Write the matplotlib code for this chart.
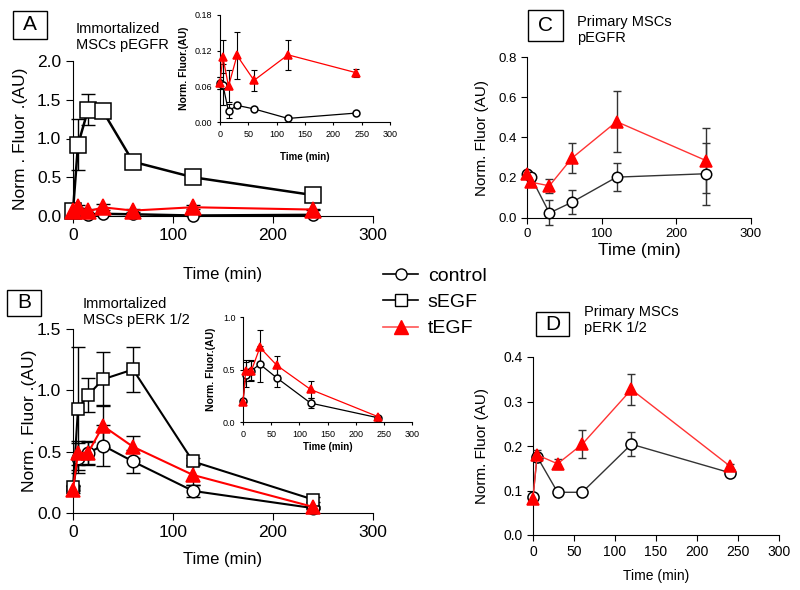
import matplotlib
matplotlib.use("Agg")
import matplotlib.pyplot as plt
from matplotlib.lines import Line2D
from matplotlib.patches import Rectangle

plt.rcParams['font.family'] = ['Liberation Sans', 'DejaVu Sans']

# ---- data ----
t_AB = [0, 5, 15, 30, 60, 120, 240]
t_CD = [0, 5, 30, 60, 120, 240]

A_ctrl = [0.065, 0.063, 0.018, 0.028, 0.022, 0.006, 0.015]
A_ctrl_err = [0.010, 0.035, 0.012, 0.004, 0.004, 0.002, 0.003]
A_sEGF = [0.07, 0.92, 1.37, 1.35, 0.70, 0.50, 0.27]
A_sEGF_err = [0.02, 0.33, 0.20, 0.05, 0.04, 0.02, 0.02]
A_tEGF = [0.065, 0.110, 0.060, 0.112, 0.070, 0.113, 0.083]
A_tEGF_err = [0.010, 0.028, 0.027, 0.040, 0.018, 0.025, 0.007]

B_ctrl = [0.20, 0.45, 0.49, 0.55, 0.42, 0.18, 0.04]
B_ctrl_err = [0.02, 0.12, 0.10, 0.17, 0.09, 0.05, 0.01]
B_sEGF = [0.21, 0.85, 0.96, 1.09, 1.17, 0.42, 0.11]
B_sEGF_err = [0.02, 0.50, 0.14, 0.22, 0.18, 0.03, 0.02]
B_tEGF = [0.19, 0.49, 0.49, 0.71, 0.54, 0.31, 0.05]
B_tEGF_err = [0.03, 0.10, 0.09, 0.17, 0.09, 0.08, 0.01]

C_ctrl = [0.22, 0.205, 0.025, 0.078, 0.203, 0.22]
C_ctrl_err = [0.0, 0.0, 0.062, 0.060, 0.070, 0.155]
C_tEGF = [0.22, 0.178, 0.160, 0.297, 0.479, 0.285]
C_tEGF_err = [0.0, 0.0, 0.035, 0.075, 0.150, 0.160]

D_ctrl = [0.086, 0.176, 0.096, 0.096, 0.204, 0.140]
D_ctrl_err = [0.005, 0.008, 0.0, 0.0, 0.027, 0.008]
D_tEGF = [0.082, 0.180, 0.160, 0.204, 0.327, 0.155]
D_tEGF_err = [0.0, 0.010, 0.011, 0.032, 0.035, 0.005]

RED = "#ff0000"
W, H = 800, 590


def px_axes(fig, x0, y0, x1, y1):
    """axes from pixel box (top-left origin)"""
    return fig.add_axes([x0 / W, 1 - y1 / H, (x1 - x0) / W, (y1 - y0) / H])


def series(ax, t, y, e, marker, fc, ec, lc, ms, lw, cap, elw=1.0, ecol="black", z=3):
    ax.errorbar(t, y, yerr=e, fmt="none", ecolor=ecol, elinewidth=elw,
                capsize=cap, capthick=elw, zorder=z, clip_on=False)
    ax.plot(t, y, color=lc, lw=lw, marker=marker, ms=ms, mfc=fc, mec=ec,
            mew=1.1, zorder=z + 1, clip_on=False)


def style(ax, xt, yt, yfmt, lsize, tlen):
    for s in ("top", "right"):
        ax.spines[s].set_visible(False)
    ax.set_xlim(0, 300)
    ax.set_xticks(xt)
    ax.set_yticks(yt)
    ax.set_yticklabels([yfmt.format(v) for v in yt])
    ax.tick_params(labelsize=lsize, length=tlen, direction="out")


def xlab(ax, s, size, y, **kw):
    ax.set_xlabel(s, fontsize=size, **kw)
    ax.xaxis.set_label_coords(0.5, y)
    ax.xaxis.label.set_va("center")


def ylab(ax, s, size, x, **kw):
    ax.set_ylabel(s, fontsize=size, **kw)
    ax.yaxis.set_label_coords(x, 0.5)


fig = plt.figure(figsize=(8, 5.9), dpi=100)

# ---- panel A ----
ax = px_axes(fig, 73, 61, 373, 216)
series(ax, t_AB, A_ctrl, A_ctrl_err, "o", "white", "black", "black", 8, 1.8, 5)
series(ax, t_AB, A_sEGF, A_sEGF_err, "s", "white", "black", "black", 11, 1.8, 5)
series(ax, t_AB, A_tEGF, A_tEGF_err, "^", RED, RED, RED, 11, 1.5, 5)
style(ax, [0, 100, 200, 300], [0, 0.5, 1.0, 1.5, 2.0], "{:.1f}", 12.5, 5)
ax.set_ylim(0, 2.0)
ylab(ax, "Norm . Fluor .(AU)", 12.5, -0.15)
xlab(ax, "Time (min)", 12, -0.38)

axi = px_axes(fig, 220, 15, 390, 122)
series(axi, t_AB, A_ctrl, A_ctrl_err, "o", "white", "black", "black", 5, 0.9, 2.5, 0.8)
series(axi, t_AB, A_tEGF, A_tEGF_err, "^", RED, RED, RED, 5.5, 0.9, 2.5, 0.8)
style(axi, [0, 50, 100, 150, 200, 250, 300], [0, 0.06, 0.12, 0.18], "{:.2f}", 6.5, 2)
axi.set_ylim(0, 0.18)
ylab(axi, "Norm. Fluor.(AU)", 7.5, -0.18, fontweight="bold")
xlab(axi, "Time (min)", 7, -0.33, fontweight="bold")

# ---- panel B ----
ax = px_axes(fig, 73, 329, 373, 513)
series(ax, t_AB, B_ctrl, B_ctrl_err, "o", "white", "black", "black", 9, 1.5, 5)
series(ax, t_AB, B_sEGF, B_sEGF_err, "s", "white", "black", "black", 9, 1.5, 5)
series(ax, t_AB, B_tEGF, B_tEGF_err, "^", RED, RED, RED, 9.5, 1.5, 5)
style(ax, [0, 100, 200, 300], [0, 0.5, 1.0, 1.5], "{:.1f}", 12.5, 5)
ax.set_ylim(0, 1.5)
ylab(ax, "Norm . Fluor .(AU)", 12.5, -0.12)
xlab(ax, "Time (min)", 12, -0.255)

axi = px_axes(fig, 243, 317, 412, 422)
series(axi, t_AB, B_ctrl, B_ctrl_err, "o", "white", "black", "black", 5, 0.9, 2.5, 0.8)
series(axi, t_AB, B_tEGF, B_tEGF_err, "^", RED, RED, RED, 5.5, 0.9, 2.5, 0.8)
style(axi, [0, 50, 100, 150, 200, 250, 300], [0, 0.5, 1.0], "{:.1f}", 6.5, 2)
axi.set_ylim(0, 1.0)
ylab(axi, "Norm. Fluor.(AU)", 7.5, -0.16, fontweight="bold")
xlab(axi, "Time (min)", 7, -0.24, fontweight="bold")

# ---- panel C ----
ax = px_axes(fig, 527, 57, 751, 218)
series(ax, t_CD, C_ctrl, C_ctrl_err, "o", "white", "black", "#333333", 7.5, 1.0, 3, 1.0, "#333333")
series(ax, t_CD, C_tEGF, C_tEGF_err, "^", RED, RED, "#ff3333", 8, 1.0, 3, 1.0, "#333333")
style(ax, [0, 100, 200, 300], [0, 0.2, 0.4, 0.6, 0.8], "{:.1f}", 9.5, 4)
ax.set_ylim(0, 0.8)
ylab(ax, "Norm. Fluor (AU)", 11, -0.17)
xlab(ax, "Time (min)", 12.5, -0.2)

# ---- panel D ----
ax = px_axes(fig, 533, 357, 779, 535)
series(ax, t_CD, D_ctrl, D_ctrl_err, "o", "white", "black", "#333333", 8, 1.0, 3, 1.0, "#333333")
series(ax, t_CD, D_tEGF, D_tEGF_err, "^", RED, RED, "#ff3333", 8, 1.0, 3, 1.0, "#333333")
style(ax, [0, 50, 100, 150, 200, 250, 300], [0, 0.1, 0.2, 0.3, 0.4], "{:.1f}", 10, 4)
ax.set_ylim(0, 0.4)
ylab(ax, "Norm. Fluor (AU)", 11, -0.18)
xlab(ax, "Time (min)", 10, -0.23)

# ---- panel letters and titles ----
boxes = {"A": (13, 11, 47, 39), "B": (7, 290, 41, 316),
         "C": (528, 10, 563, 41), "D": (536, 312, 569, 336)}
for lab, (x0, y0, x1, y1) in boxes.items():
    fig.patches.append(Rectangle((x0 / W, 1 - y1 / H), (x1 - x0) / W, (y1 - y0) / H,
                                 transform=fig.transFigure, fc="white", ec="black", lw=1))
    fig.text((x0 + x1) / 2 / W, 1 - (y0 + y1) / 2 / H, lab, fontsize=15,
             ha="center", va="center")

titles = [(76, 22, "Immortalized\nMSCs pEGFR"), (83, 297, "Immortalized\nMSCs pERK 1/2"),
          (577, 15, "Primary MSCs\npEGFR"), (584, 305, "Primary MSCs\npERK 1/2")]
for x, y, s in titles:
    fig.text(x / W, 1 - y / H, s, fontsize=10.5, ha="left", va="top", linespacing=1.15)

# ---- legend ----
handles = [
    Line2D([], [], color="black", lw=1.2, marker="o", ms=8, mfc="white", mec="black"),
    Line2D([], [], color="black", lw=1.2, marker="s", ms=8, mfc="white", mec="black"),
    Line2D([], [], color="#ff5555", lw=1.2, marker="^", ms=10, mfc=RED, mec=RED),
]
fig.legend(handles, ["control", "sEGF", "tEGF"], loc="upper left",
           bbox_to_anchor=(383 / W, 1 - 267 / H), frameon=False, fontsize=14,
           handlelength=1.8, handletextpad=0.5, labelspacing=0.45,
           borderpad=0, borderaxespad=0)

fig.savefig("out.png", dpi=100)
